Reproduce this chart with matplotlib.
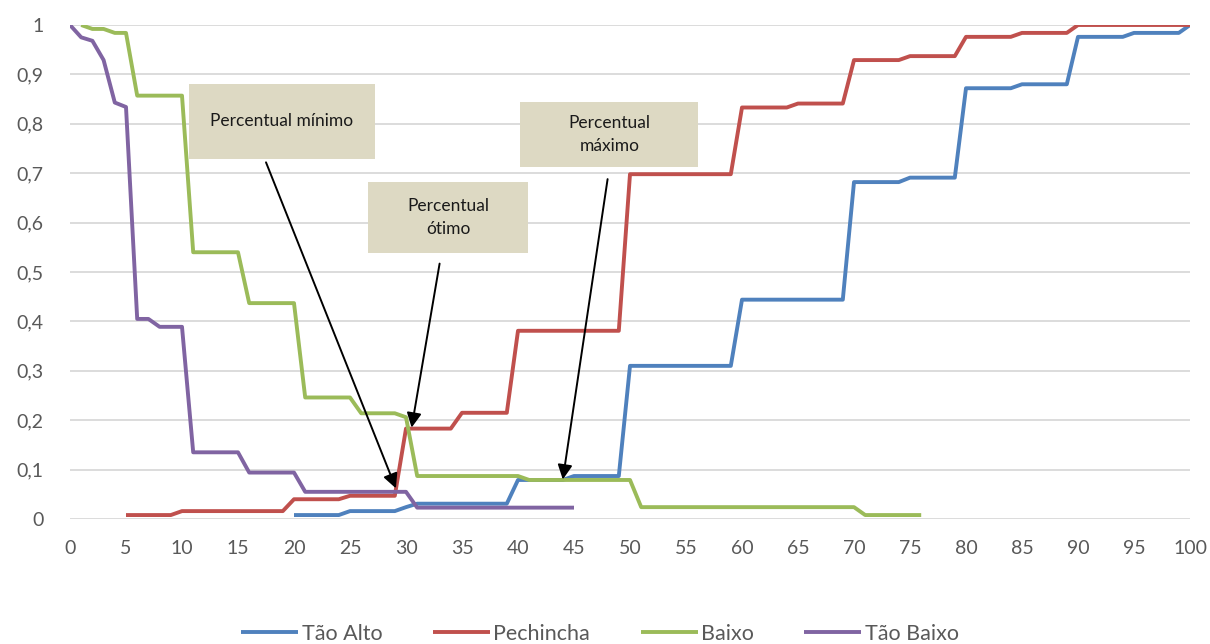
import matplotlib
matplotlib.use("Agg")
import matplotlib.pyplot as plt
from matplotlib.patches import Rectangle

plt.rcParams["font.family"] = ["Lato", "DejaVu Sans"]

# Cumulative share of respondents per price level (0..100)
series_names = ["Tão Alto", "Pechincha", "Baixo", "Tão Baixo"]
series_colors = ["#4F81BD", "#C0504D", "#9BBB59", "#8064A2"]

tao_alto_start = 20
tao_alto = (
    [0.008] * 5 + [0.016] * 5 + [0.024] + [0.031] * 9 + [0.079] * 5 + [0.087] * 5
    + [0.310] * 10 + [0.444] * 10 + [0.682] * 5 + [0.691] * 5 + [0.872] * 5
    + [0.880] * 5 + [0.976] * 5 + [0.984] * 5 + [1.0]
)

pechincha_start = 5
pechincha = (
    [0.008] * 5 + [0.016] * 10 + [0.040] * 5 + [0.047] * 5 + [0.183] * 5
    + [0.215] * 5 + [0.381] * 10 + [0.698] * 10 + [0.833] * 5 + [0.841] * 5
    + [0.929] * 5 + [0.937] * 5 + [0.976] * 5 + [0.984] * 5 + [1.0] * 11
)

baixo_start = 1
baixo = (
    [1.0] + [0.992] * 2 + [0.984] * 2 + [0.857] * 5 + [0.540] * 5 + [0.437] * 5
    + [0.246] * 5 + [0.214] * 4 + [0.206] + [0.087] * 10 + [0.079] * 10
    + [0.024] * 20 + [0.008] * 6
)

tao_baixo_start = 0
tao_baixo = (
    [1.0, 0.975, 0.968, 0.929, 0.843, 0.834] + [0.405] * 2 + [0.389] * 3
    + [0.135] * 5 + [0.094] * 5 + [0.055] * 10 + [0.023] * 15
)

series = [
    (tao_alto_start, tao_alto),
    (pechincha_start, pechincha),
    (baixo_start, baixo),
    (tao_baixo_start, tao_baixo),
]

x_ticks = list(range(0, 101, 5))
y_ticks = [i / 10 for i in range(11)]
y_tick_labels = ["0"] + [f"0,{i}" for i in range(1, 10)] + ["1"]

W, H = 1210, 644
fig = plt.figure(figsize=(W / 100, H / 100), dpi=100)
ax = fig.add_axes([70 / W, 1 - 519 / H, 1120 / W, 494 / H])

for (start, values), name, color in zip(series, series_names, series_colors):
    xs = list(range(start, start + len(values)))
    ax.plot(xs, values, color=color, lw=2.8, label=name, solid_joinstyle="round",
            solid_capstyle="butt", zorder=3)

ax.set_xlim(0, 100)
ax.set_ylim(0, 1)
ax.set_xticks(x_ticks)
ax.set_xticklabels([str(t) for t in x_ticks])
ax.set_yticks(y_ticks)
ax.set_yticklabels(y_tick_labels)
ax.tick_params(axis="both", length=0, labelsize=14, labelcolor="#595959")
ax.tick_params(axis="x", pad=15)
ax.tick_params(axis="y", pad=19)
for lbl in ax.get_yticklabels():
    lbl.set_horizontalalignment("right")
ax.grid(axis="y", color="#D9D9D9", lw=1.3, zorder=0)
for side in ax.spines.values():
    side.set_visible(False)

# Callout boxes with arrows
box_color = "#DDD9C3"
callouts = [
    # (x0, x1, y_bottom, y_top, text, arrow start, arrow tip)
    (10.6, 27.2, 0.728, 0.880, "Percentual mínimo", (17.5, 0.722), (29.1, 0.062)),
    (26.6, 40.9, 0.538, 0.682, "Percentual\nótimo", (33.0, 0.517), (30.5, 0.185)),
    (40.2, 56.1, 0.712, 0.844, "Percentual\nmáximo", (48.0, 0.688), (44.0, 0.080)),
]
for x0, x1, y0, y1, text, a_start, a_tip in callouts:
    ax.add_patch(Rectangle((x0, y0), x1 - x0, y1 - y0, facecolor=box_color,
                           edgecolor="none", zorder=4, clip_on=False))
    ax.text((x0 + x1) / 2, (y0 + y1) / 2 + 0.001, text, ha="center", va="center",
            fontsize=12.5, color="#1a1a1a", linespacing=1.55, zorder=5)
    ax.annotate("", xy=a_tip, xytext=a_start,
                arrowprops=dict(arrowstyle="-|>", color="black", lw=1.4,
                                mutation_scale=22, shrinkA=0, shrinkB=0),
                zorder=6)

handles, labels = ax.get_legend_handles_labels()
fig.legend(handles, labels, loc="center", bbox_to_anchor=(600 / W, 1 - 634 / H),
           ncol=4, frameon=False, fontsize=15.5, handlelength=2.65,
           handletextpad=0.15, columnspacing=2.35, labelcolor="#595959")

fig.savefig("out.png", dpi=100)
